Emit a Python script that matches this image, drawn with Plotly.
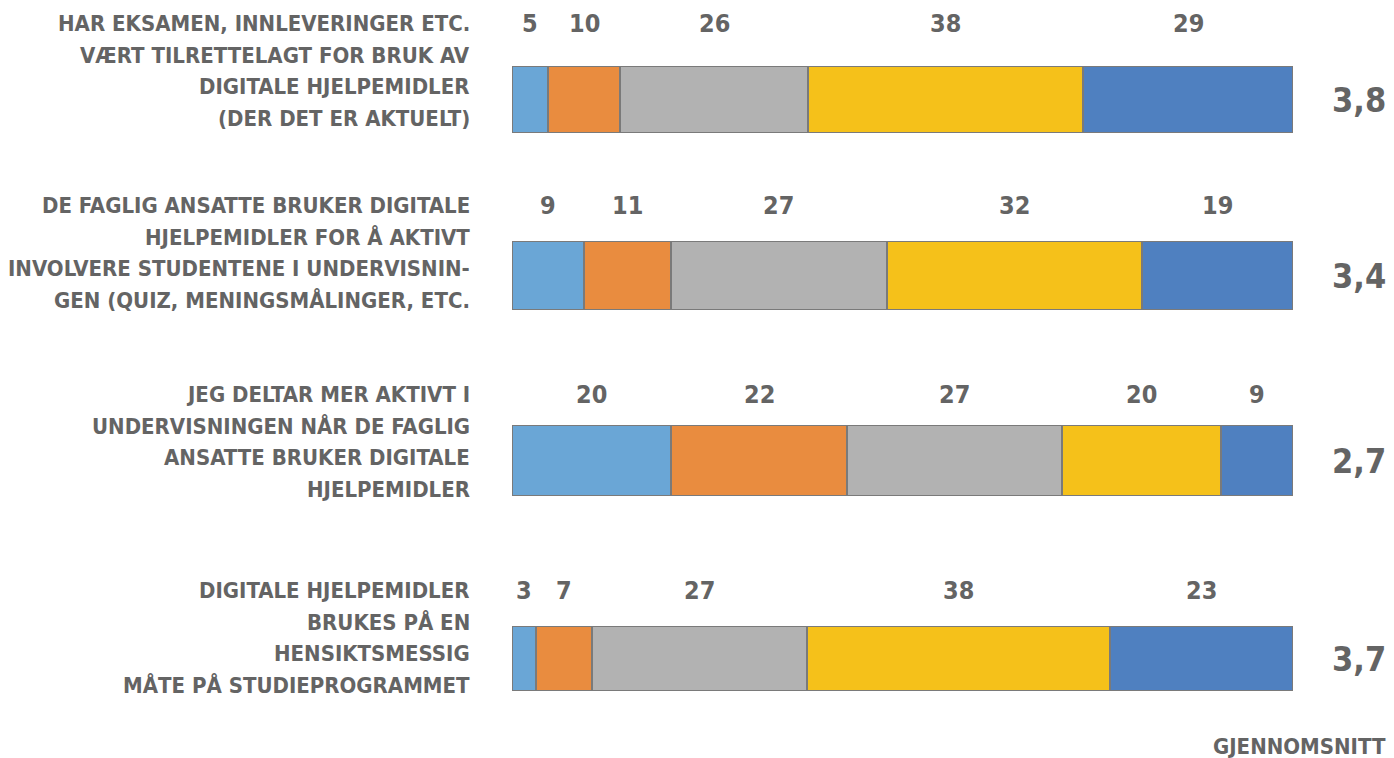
import plotly.graph_objects as go
from plotly.subplots import make_subplots

# statements (top to bottom), one entry per text line
questions = ["Q1", "Q2", "Q3", "Q4"]
question_lines = [
    ["HAR EKSAMEN, INNLEVERINGER ETC.", "VÆRT TILRETTELAGT FOR BRUK AV",
     "DIGITALE HJELPEMIDLER", "(DER DET ER AKTUELT)"],
    ["DE FAGLIG ANSATTE BRUKER DIGITALE", "HJELPEMIDLER FOR Å AKTIVT",
     "INVOLVERE STUDENTENE I UNDERVISNIN-", "GEN (QUIZ, MENINGSMÅLINGER, ETC."],
    ["JEG DELTAR MER AKTIVT I", "UNDERVISNINGEN NÅR DE FAGLIG",
     "ANSATTE BRUKER DIGITALE", "HJELPEMIDLER"],
    ["DIGITALE HJELPEMIDLER", "BRUKES PÅ EN",
     "HENSIKTSMESSIG", "MÅTE PÅ STUDIEPROGRAMMET"],
]

# answer shares per level 1..5
level1 = [5, 9, 20, 3]
level2 = [10, 11, 22, 7]
level3 = [26, 27, 27, 27]
level4 = [38, 32, 20, 38]
level5 = [29, 19, 9, 23]

averages = ["3,8", "3,4", "2,7", "3,7"]

colors = ["#6aa6d6", "#e98c3f", "#b2b2b2", "#f5c11a", "#4f80c0"]
text_col = "#646464"
FONT = "Liberation Sans Narrow, DejaVu Sans Condensed, Arial Narrow, sans-serif"

levels = [level1, level2, level3, level4, level5]

# vertical placement of each bar row (paper fractions) and label offsets (px)
H = 758
row_px = [(66, 133), (241, 310), (425, 496), (626, 691)]
num_shift = [76, 70, 66, 68]

fig = make_subplots(rows=4, cols=1, shared_xaxes=True)
for i, q in enumerate(questions):
    for lv, col in zip(levels, colors):
        fig.add_trace(go.Bar(
            x=[lv[i]], y=[q], orientation="h",
            marker=dict(color=col, line=dict(color="#7a7a7a", width=2)),
            hoverinfo="x", showlegend=False,
        ), row=i + 1, col=1)

annotations = []
for i, q in enumerate(questions):
    yref = "y" if i == 0 else f"y{i + 1}"
    row = [lv[i] for lv in levels]
    total = sum(row)
    cum = 0
    for v in row:
        pct = v / total * 100
        annotations.append(dict(
            x=cum + pct / 2, y=q, xref="x", yref=yref, text=str(v),
            showarrow=False, yshift=num_shift[i],
            font=dict(family=FONT, size=25, color=text_col, weight="bold"),
        ))
        cum += pct
    # statement text on the left
    for k, line in enumerate(question_lines[i]):
        annotations.append(dict(
            x=-0.0512, y=q, xref="paper", yref=yref, text=line,
            xanchor="right", yanchor="middle", showarrow=False,
            yshift=num_shift[i] - 31.5 * k,
            font=dict(family=FONT, size=22, color=text_col, weight="bold"),
        ))
    # average on the right
    annotations.append(dict(
        x=1.1216, y=q, xref="paper", yref=yref, text=averages[i],
        xanchor="right", yanchor="middle", showarrow=False,
        font=dict(family=FONT, size=34, color=text_col, weight="bold"),
    ))

annotations.append(dict(
    x=1.1216, y=1 - 746 / H, xref="paper", yref="paper", text="GJENNOMSNITT",
    xanchor="right", yanchor="middle", showarrow=False,
    font=dict(family=FONT, size=22, color=text_col, weight="bold"),
))

fig.update_layout(
    barmode="stack", barnorm="percent", bargap=0,
    width=1394, height=H,
    margin=dict(l=512, r=101, t=0, b=0),
    paper_bgcolor="white", plot_bgcolor="white",
    annotations=annotations,
)
fig.update_xaxes(range=[0, 100], visible=False)
for i, (top, bot) in enumerate(row_px):
    fig.update_yaxes(domain=[1 - bot / H, 1 - top / H], range=[-0.5, 0.5],
                     showticklabels=False, showgrid=False, zeroline=False,
                     showline=False, row=i + 1, col=1)

fig.write_html(
    "out.html",
    config={"displayModeBar": False},
    post_script="document.body.style.margin='0';document.body.style.overflow='hidden';",
)
